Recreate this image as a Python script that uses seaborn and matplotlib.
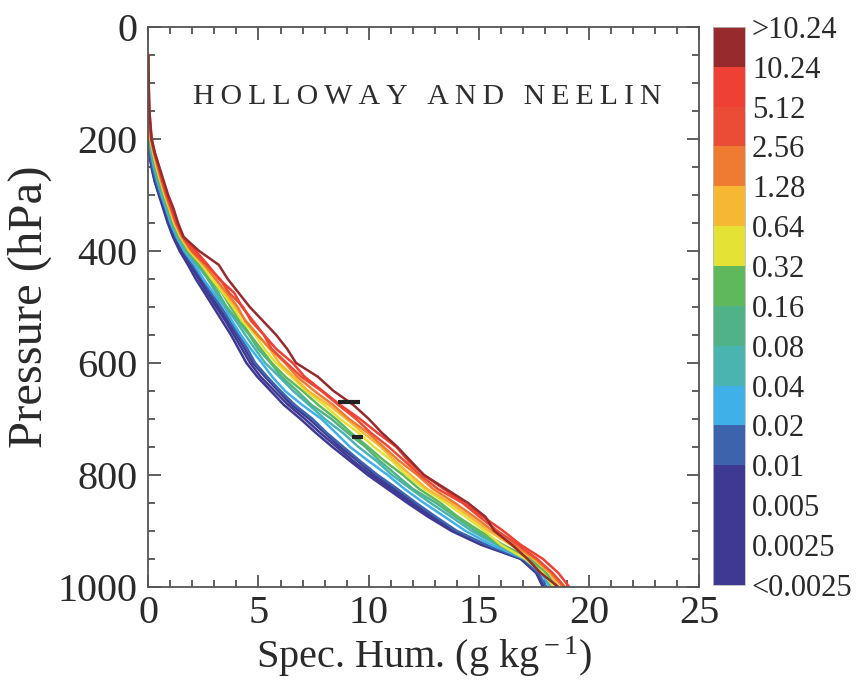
import matplotlib
matplotlib.use("Agg")
import matplotlib.pyplot as plt
import numpy as np
import pandas as pd
import seaborn as sns
from matplotlib.colors import ListedColormap, BoundaryNorm
from matplotlib.cm import ScalarMappable
from matplotlib.ticker import MultipleLocator

# Pressure levels (hPa)
pressure = [50, 100, 150, 200, 225, 250, 275, 300, 325, 350, 375, 400,
            425, 450, 475, 500, 525, 550, 575, 600, 625, 650, 675, 700,
            725, 750, 775, 800, 825, 850, 875, 900, 925, 950, 975, 1000]

# Conditionally averaged specific humidity (g/kg) for each precipitation class
q_c00 = [0, 0, 0, 0, 0.04, 0.14, 0.28, 0.48, 0.68, 0.88, 1.12, 1.42, 1.8, 2.15, 2.55, 2.95, 3.35, 3.75,
         4.1, 4.45, 4.95, 5.55, 6.15, 6.9, 7.6, 8.35, 9.15, 9.95, 10.85, 11.75, 12.7, 13.75, 15.1, 16.9, 17.6, 17.9]
q_c01 = [0, 0, 0, 0, 0.05, 0.16, 0.3, 0.5, 0.72, 0.92, 1.18, 1.5, 1.9, 2.28, 2.66, 3.08, 3.5, 3.88,
         4.25, 4.62, 5.1, 5.72, 6.35, 7.1, 7.8, 8.55, 9.3, 10.1, 11.0, 11.9, 12.85, 13.85, 15.2, 16.95, 17.65, 18.0]
q_c02 = [0, 0, 0, 0, 0.06, 0.18, 0.33, 0.53, 0.75, 0.95, 1.22, 1.55, 1.98, 2.35, 2.78, 3.18, 3.6, 4.0,
         4.38, 4.75, 5.3, 5.9, 6.5, 7.3, 8.0, 8.7, 9.5, 10.25, 11.15, 12.05, 12.95, 13.9, 15.25, 16.9, 17.6, 18.05]
q_c03 = [0, 0, 0, 0, 0.07, 0.19, 0.35, 0.56, 0.78, 0.98, 1.25, 1.6, 2.02, 2.45, 2.85, 3.3, 3.7, 4.1,
         4.5, 4.85, 5.4, 6.0, 6.65, 7.45, 8.1, 8.85, 9.6, 10.4, 11.3, 12.15, 13.05, 14.0, 15.35, 17.0, 17.7, 18.05]
q_c04 = [0, 0, 0, 0.05, 0.13, 0.25, 0.41, 0.6, 0.81, 1.02, 1.29, 1.63, 2.1, 2.5, 2.95, 3.45, 3.8, 4.2,
         4.65, 5.15, 5.63, 6.2, 6.98, 7.85, 8.51, 9.15, 9.98, 10.85, 11.62, 12.5, 13.45, 14.39, 15.57, 17.07, 17.84, 18.2]
q_c05 = [0, 0, 0, 0.06, 0.16, 0.29, 0.45, 0.65, 0.86, 1.07, 1.34, 1.7, 2.21, 2.7, 3.08, 3.53, 3.97, 4.4,
         4.84, 5.3, 5.95, 6.57, 7.29, 8.0, 8.83, 9.53, 10.35, 11.05, 11.91, 12.8, 13.75, 14.67, 15.8, 17.18, 17.94, 18.3]
q_c06 = [0, 0, 0, 0.08, 0.18, 0.32, 0.48, 0.68, 0.89, 1.1, 1.38, 1.75, 2.28, 2.7, 3.18, 3.55, 4.08, 4.58,
         4.98, 5.55, 6.05, 6.75, 7.4, 8.3, 9.05, 9.85, 10.5, 11.25, 12.0, 13.05, 13.95, 14.85, 15.95, 17.25, 18.0, 18.4]
q_c07 = [0, 0, 0, 0.09, 0.2, 0.34, 0.51, 0.7, 0.92, 1.13, 1.41, 1.8, 2.34, 2.78, 3.35, 3.73, 4.18, 4.62,
         5.11, 5.6, 6.22, 7.0, 7.71, 8.51, 9.2, 9.97, 10.71, 11.55, 12.29, 13.25, 14.05, 15.03, 16.1, 17.32, 18.06, 18.5]
q_c08 = [0, 0, 0, 0.1, 0.22, 0.37, 0.55, 0.74, 0.96, 1.17, 1.46, 1.86, 2.43, 2.88, 3.38, 3.85, 4.25, 4.85,
         5.27, 5.79, 6.5, 7.16, 7.97, 8.7, 9.54, 10.24, 11.05, 11.7, 12.53, 13.5, 14.4, 15.26, 16.0, 17.1, 17.9, 18.4]
q_c09 = [0, 0, 0, 0.11, 0.24, 0.4, 0.57, 0.77, 0.99, 1.2, 1.49, 1.91, 2.5, 3.05, 3.47, 3.95, 4.43, 4.98,
         5.5, 5.94, 6.6, 7.25, 8.18, 8.98, 9.75, 10.55, 11.18, 11.9, 12.65, 13.7, 14.6, 15.45, 16.44, 17.48, 18.21, 18.6]
q_c10 = [0, 0, 0.02, 0.12, 0.26, 0.43, 0.6, 0.79, 1.02, 1.24, 1.53, 1.95, 2.56, 3.04, 3.57, 4.05, 4.4, 4.95,
         5.54, 6.2, 6.76, 7.53, 8.38, 9.1, 9.97, 10.67, 11.38, 12.2, 12.92, 13.9, 14.8, 15.63, 16.6, 17.56, 18.27, 18.8]
q_c11 = [0, 0.01, 0.03, 0.14, 0.28, 0.46, 0.63, 0.83, 1.05, 1.27, 1.57, 2.01, 2.64, 3.25, 3.67, 4.3, 4.66, 5.24,
         5.6, 6.27, 6.95, 7.85, 8.62, 9.42, 10.1, 10.91, 11.62, 12.33, 13.13, 14.25, 15.03, 15.84, 16.77, 17.64, 18.34, 18.9]
q_c12 = [0, 0.02, 0.05, 0.15, 0.3, 0.48, 0.66, 0.85, 1.08, 1.3, 1.6, 2.15, 2.7, 3.2, 3.9, 4.25, 4.75, 5.25,
         5.8, 6.55, 7.1, 7.9, 8.7, 9.6, 10.4, 11.25, 11.8, 12.5, 13.4, 14.3, 15.2, 16.1, 16.9, 17.9, 18.6, 19.1]
q_c13 = [0, 0.02, 0.05, 0.15, 0.3, 0.5, 0.7, 0.9, 1.15, 1.35, 1.6, 2.3, 3.2, 3.6, 4.1, 4.6, 5.2, 5.8,
         6.3, 6.7, 7.7, 8.4, 9.3, 10.0, 10.6, 11.3, 11.9, 12.5, 13.5, 14.5, 15.3, 15.7, 16.5, 17.2, 17.8, 18.6]

# Class colours, driest to wettest
class_colors = ["#3e3a93", "#3e3a93", "#3e3a93", "#3d63ad", "#3fb0e8", "#4ab5b0", "#50b387",
                "#5fb85a", "#e3e235", "#f6b733", "#ef7a31", "#eb4c35", "#ee4035", "#962a2c"]

# Precipitation bin edges (mm/h) shown on the colour bar
bin_labels = ["<0.0025", "0.0025", "0.005", "0.01", "0.02", "0.04", "0.08", "0.16",
              "0.32", "0.64", "1.28", "2.56", "5.12", "10.24", ">10.24"]

# Short black reference marks (pressure, start, end)
mark_p = [670, 732]
mark_q0 = [8.6, 9.25]
mark_q1 = [9.6, 9.75]

profiles = [q_c00, q_c01, q_c02, q_c03, q_c04, q_c05, q_c06,
            q_c07, q_c08, q_c09, q_c10, q_c11, q_c12, q_c13]

frames = []
for i, prof in enumerate(profiles):
    frames.append(pd.DataFrame({"pressure": pressure, "q": prof, "cls": i}))
df = pd.concat(frames, ignore_index=True)

sns.set_theme(style="ticks")
plt.rcParams["font.family"] = ["Liberation Serif", "DejaVu Serif"]
plt.rcParams["mathtext.fontset"] = "custom"
plt.rcParams["mathtext.rm"] = "Liberation Serif"
plt.rcParams["mathtext.it"] = "Liberation Serif:italic"

fig = plt.figure(figsize=(8.57, 6.88), dpi=100)
ax = fig.add_axes([0.173, 0.147, 0.643, 0.814])

sns.lineplot(data=df, x="q", y="pressure", hue="cls", palette=class_colors,
             sort=False, estimator=None, legend=False, linewidth=1.8, ax=ax)

ax.hlines(mark_p, mark_q0, mark_q1, color="#222222", linewidth=3.0)

ax.set_xlim(0, 25)
ax.set_ylim(1000, 0)
ax.xaxis.set_major_locator(MultipleLocator(5))
ax.xaxis.set_minor_locator(MultipleLocator(1))
ax.yaxis.set_major_locator(MultipleLocator(200))
ax.yaxis.set_minor_locator(MultipleLocator(50))
ax.tick_params(which="both", direction="in", top=True, right=True,
               color="#444444", width=1.2)
ax.tick_params(which="major", length=9, labelsize=29, colors="#444444",
               labelcolor="#2a2a2a")
ax.tick_params(which="minor", length=5)
ax.tick_params(axis="y", pad=8)
ax.tick_params(axis="x", pad=6)
for s in ax.spines.values():
    s.set_color("#555555")
    s.set_linewidth(1.3)

ax.set_xlabel(r"Spec. Hum. (g kg$^{\rm -1}$)", fontsize=29, color="#2a2a2a", labelpad=2)
ax.set_ylabel("Pressure (hPa)", fontsize=35, color="#2a2a2a", labelpad=4)

title = "\u2009".join("HOLLOWAY AND NEELIN")
ax.text(12.66, 125, title, fontsize=21.5, color="#2e2e2e", ha="center", va="center")

# Discrete colour bar
cax = fig.add_axes([0.832, 0.150, 0.0373, 0.811])
cmap = ListedColormap(class_colors)
norm = BoundaryNorm(np.arange(len(class_colors) + 1), cmap.N)
cb = fig.colorbar(ScalarMappable(norm=norm, cmap=cmap), cax=cax,
                  ticks=np.arange(len(bin_labels)))
cb.ax.set_yticklabels(bin_labels)
cb.ax.tick_params(length=0, labelsize=22, pad=5, labelcolor="#2a2a2a")
cb.outline.set_linewidth(0.6)
cb.outline.set_edgecolor("#bbbbbb")

fig.savefig("out.png", dpi=100)
